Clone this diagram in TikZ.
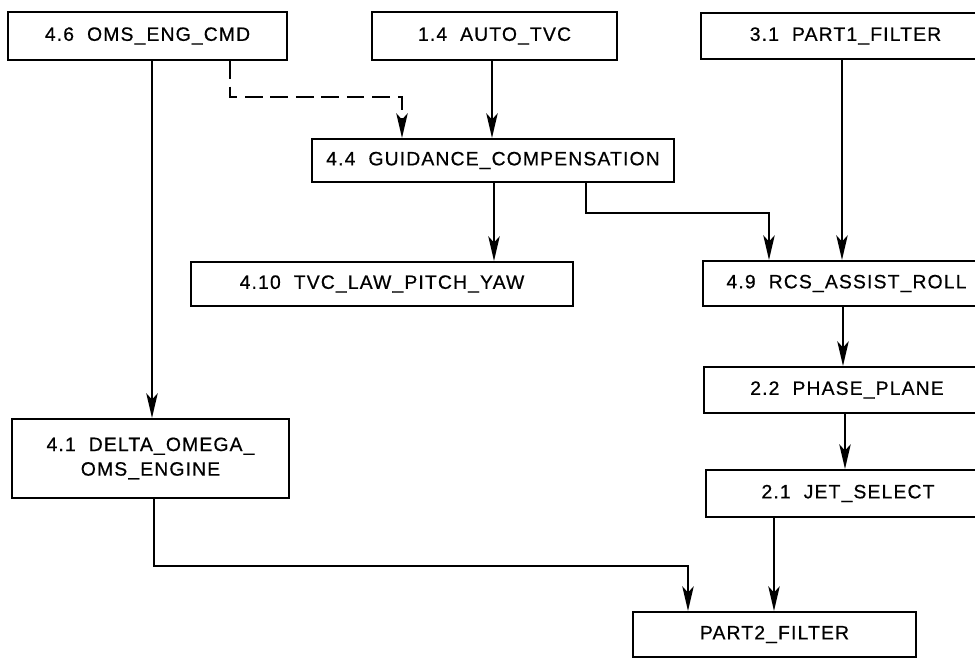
\documentclass[tikz,border=0pt]{standalone}
\usepackage{fontspec}
\setmainfont{Liberation Sans}[LetterSpace=6,FakeBold=0.6]
\usetikzlibrary{arrows.meta}

\begin{document}
\begin{tikzpicture}[x=0.02cm,y=-0.02cm,
  proc/.style={draw, rectangle, line width=1.2pt, align=center, inner sep=0pt,
    font=\fontsize{11pt}{14pt}\selectfont},
  flow/.style={line width=1.1pt, -{Stealth[length=14pt,width=6.5pt,inset=3.5pt]}}]
\useasboundingbox (0,0) rectangle (975,658);
\clip (0,0) rectangle (975,658);

\node[proc, minimum width=279*0.02cm, minimum height=48*0.02cm] (a) at (147.5,36) {4.6\ \ OMS\_ENG\_CMD};
\node[proc, minimum width=245*0.02cm, minimum height=48*0.02cm] (b) at (494.5,36) {1.4\ \ AUTO\_TVC};
\node[proc, minimum width=289*0.02cm, minimum height=46*0.02cm] (c) at (845.5,36) {3.1\ \ PART1\_FILTER};

\node[proc, minimum width=362*0.02cm, minimum height=43*0.02cm] (d) at (493,160.5) {4.4\ \ GUIDANCE\_COMPENSATION};

\node[proc, minimum width=382*0.02cm, minimum height=44*0.02cm] (e) at (382,284) {4.10\ \ TVC\_LAW\_PITCH\_YAW};
\node[proc, minimum width=287*0.02cm, minimum height=45*0.02cm] (f) at (846.5,283.5) {4.9\ \ RCS\_ASSIST\_ROLL};

\node[proc, minimum width=286*0.02cm, minimum height=46*0.02cm] (g) at (847,390) {2.2\ \ PHASE\_PLANE};

\node[proc, minimum width=277*0.02cm, minimum height=79*0.02cm] (h) at (150.5,458.5) {4.1\ \ DELTA\_OMEGA\_\\OMS\_ENGINE};
\node[proc, minimum width=284*0.02cm, minimum height=47*0.02cm] (i) at (848,493.5) {2.1\ \ JET\_SELECT};

\node[proc, minimum width=283*0.02cm, minimum height=45*0.02cm] (j) at (774.5,634.5) {PART2\_FILTER};

\draw[flow] (a.south -| 152,0) -- (h.north -| 152,0);
\draw[flow, dash pattern=on 10pt off 4.5pt] (a.south -| 230,0) -- (230,97) -| (d.north -| 402,0);
\draw[flow] (b.south -| 492,0) -- (d.north -| 492,0);
\draw[flow] (c.south -| 842,0) -- (f.north -| 842,0);

\draw[flow] (d.south -| 494,0) -- (e.north -| 494,0);
\draw[flow] (d.south -| 586,0) |- (769,213) -- (f.north -| 769,0);

\draw[flow] (f.south -| 843,0) -- (g.north -| 843,0);
\draw[flow] (g.south -| 845,0) -- (i.north -| 845,0);

\draw[flow] (h.south -| 154,0) |- (688,566) -- (j.north -| 688,0);
\draw[flow] (i.south -| 774,0) -- (j.north -| 774,0);
\end{tikzpicture}
\end{document}
